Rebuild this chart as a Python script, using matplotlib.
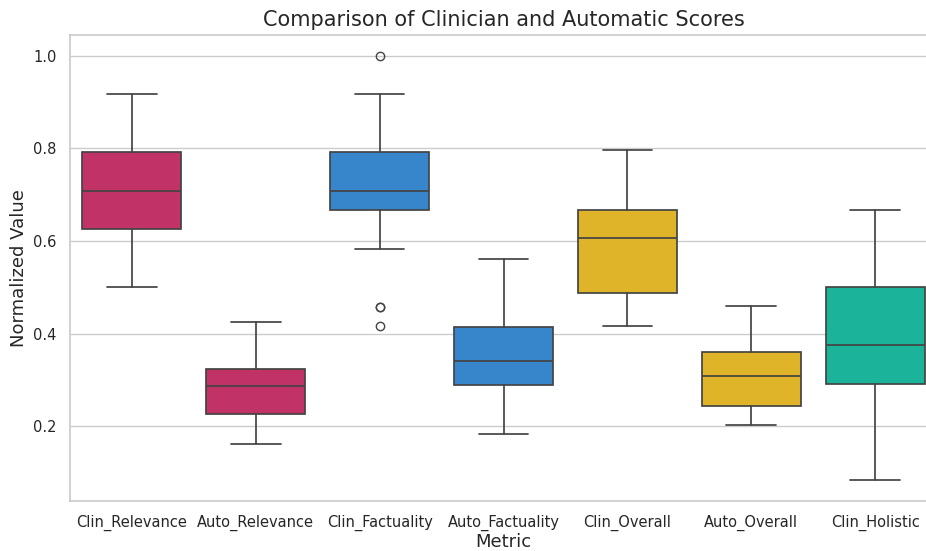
import matplotlib
matplotlib.use("Agg")
from matplotlib import pyplot as plt
import seaborn as sns

# metrics on the x axis
metrics = ["Clin_Relevance", "Auto_Relevance", "Clin_Factuality", "Auto_Factuality",
           "Clin_Overall", "Auto_Overall", "Clin_Holistic"]

# box statistics
whisker_low = [0.5000, 0.1620, 0.5833, 0.1835, 0.4167, 0.2020, 0.0833]
q1 = [0.6250, 0.2260, 0.6667, 0.2895, 0.4875, 0.2440, 0.2917]
medians = [0.7083, 0.2870, 0.7083, 0.3410, 0.6065, 0.3090, 0.3750]
q3 = [0.7917, 0.3235, 0.7917, 0.4140, 0.6667, 0.3600, 0.5000]
whisker_high = [0.9167, 0.4250, 0.9167, 0.5610, 0.7975, 0.4600, 0.6667]
outliers = [[], [], [1.0, 0.4583, 0.4583, 0.4167], [], [], [], []]

box_colors = ["#C13366", "#C13366", "#3786CC", "#3786CC", "#DFB428", "#DFB428", "#1BB39A"]

sns.set_theme(style="whitegrid")
plt.rcParams['font.family'] = ['DejaVu Sans']

fig = plt.figure(figsize=(9.26, 5.51), dpi=100)
ax = fig.add_axes([0.0756, 0.0902, 1.0119 - 0.0756, 0.937 - 0.0902])

stats = []
for i, name in enumerate(metrics):
    stats.append(dict(label=name, whislo=whisker_low[i], q1=q1[i], med=medians[i],
                      q3=q3[i], whishi=whisker_high[i], fliers=outliers[i]))

edge = "#444444"
bp = ax.bxp(stats, positions=range(len(metrics)), widths=0.8, patch_artist=True,
            boxprops=dict(edgecolor=edge, linewidth=1.25),
            medianprops=dict(color=edge, linewidth=1.25),
            whiskerprops=dict(color=edge, linewidth=1.25),
            capprops=dict(color=edge, linewidth=1.25),
            capwidths=0.4,
            flierprops=dict(marker="o", markerfacecolor="none", markeredgecolor=edge,
                            markersize=6, markeredgewidth=1.0))
for patch, c in zip(bp["boxes"], box_colors):
    patch.set_facecolor(c)

ax.set_xlim(-0.5, len(metrics) - 0.5)
ax.set_ylim(0.0375, 1.0458)
ax.set_yticks([0.2, 0.4, 0.6, 0.8, 1.0])
ax.xaxis.grid(False)
ax.tick_params(axis="both", labelsize=10.5)
ax.set_title("Comparison of Clinician and Automatic Scores", fontsize=15)
ax.set_xlabel("Metric", fontsize=13, labelpad=1.5)
ax.set_ylabel("Normalized Value", fontsize=13)

fig.savefig("out.png", dpi=100)
